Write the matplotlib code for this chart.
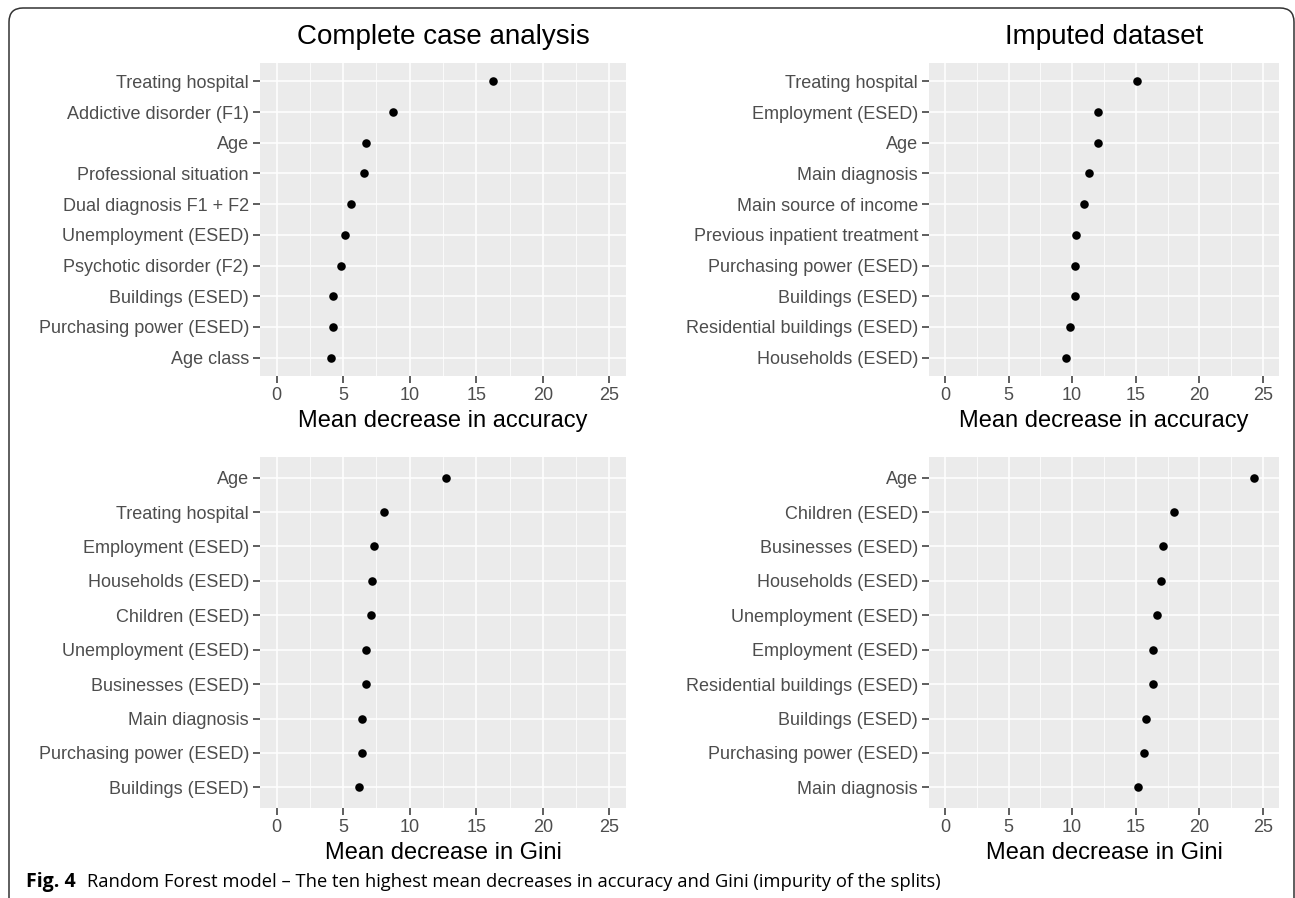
import matplotlib.pyplot as plt
from matplotlib.patches import FancyBboxPatch
import numpy as np

plt.rcParams['font.family'] = ['Liberation Sans', 'DejaVu Sans']

# data, listed top to bottom as in the picture
cca_acc_labels = ["Treating hospital", "Addictive disorder (F1)", "Age", "Professional situation",
                  "Dual diagnosis F1 + F2", "Unemployment (ESED)", "Psychotic disorder (F2)",
                  "Buildings (ESED)", "Purchasing power (ESED)", "Age class"]
cca_acc_values = [16.25, 8.75, 6.7, 6.6, 5.6, 5.15, 4.85, 4.25, 4.2, 4.1]

imp_acc_labels = ["Treating hospital", "Employment (ESED)", "Age", "Main diagnosis",
                  "Main source of income", "Previous inpatient treatment", "Purchasing power (ESED)",
                  "Buildings (ESED)", "Residential buildings (ESED)", "Households (ESED)"]
imp_acc_values = [15.1, 12.05, 12.0, 11.35, 10.95, 10.3, 10.25, 10.2, 9.85, 9.5]

cca_gini_labels = ["Age", "Treating hospital", "Employment (ESED)", "Households (ESED)",
                   "Children (ESED)", "Unemployment (ESED)", "Businesses (ESED)", "Main diagnosis",
                   "Purchasing power (ESED)", "Buildings (ESED)"]
cca_gini_values = [12.75, 8.1, 7.3, 7.2, 7.1, 6.7, 6.7, 6.45, 6.45, 6.2]

imp_gini_labels = ["Age", "Children (ESED)", "Businesses (ESED)", "Households (ESED)",
                   "Unemployment (ESED)", "Employment (ESED)", "Residential buildings (ESED)",
                   "Buildings (ESED)", "Purchasing power (ESED)", "Main diagnosis"]
imp_gini_values = [24.3, 18.0, 17.1, 17.0, 16.7, 16.35, 16.35, 15.8, 15.65, 15.15]

titles = ["Complete case analysis", "Imputed dataset"]
xlabels = ["Mean decrease in accuracy", "Mean decrease in Gini"]
caption_bold = "Fig. 4"
caption_text = "Random Forest model \u2013 The ten highest mean decreases in accuracy and Gini (impurity of the splits)"

W, H = 1295, 898
fig = plt.figure(figsize=(W / 100, H / 100), dpi=100)

def box(l, r, t, b):
    return [l / W, 1 - b / H, (r - l) / W, (b - t) / H]

panels = [
    (box(260, 626, 63, 376), cca_acc_labels, cca_acc_values, titles[0], xlabels[0]),
    (box(929, 1279, 63, 376), imp_acc_labels, imp_acc_values, titles[1], xlabels[0]),
    (box(260, 626, 457, 808), cca_gini_labels, cca_gini_values, None, xlabels[1]),
    (box(929, 1279, 457, 808), imp_gini_labels, imp_gini_values, None, xlabels[1]),
]

for rect, labels, values, title, xlabel in panels:
    ax = fig.add_axes(rect)
    n = len(labels)
    y = np.arange(n, 0, -1)
    ax.set_facecolor('#EBEBEB')
    ax.scatter(values, y, s=38, color='black', zorder=3, linewidths=0)
    ax.set_xlim(-1.25, 26.25)
    ax.set_ylim(0.4, n + 0.6)
    ax.set_xticks([0, 5, 10, 15, 20, 25])
    ax.set_xticks([2.5, 7.5, 12.5, 17.5, 22.5], minor=True)
    ax.set_yticks(y)
    ax.set_yticklabels(labels)
    ax.grid(True, which='major', color='white', linewidth=1.1)
    ax.grid(True, which='minor', axis='x', color='white', linewidth=0.55)
    ax.set_axisbelow(True)
    for s in ax.spines.values():
        s.set_visible(False)
    ax.tick_params(which='major', length=5, width=1.1, color='#333333',
                   labelcolor='#4D4D4D', labelsize=13, pad=3)
    ax.tick_params(which='minor', length=0)
    ax.set_xlabel(xlabel, fontsize=17, color='black', labelpad=4)
    if title:
        ax.set_title(title, fontsize=20, pad=14)

# rounded frame
frame = FancyBboxPatch((9, -30), 1285, 920, boxstyle="round,pad=0,rounding_size=14",
                       transform=None, facecolor='none', edgecolor='#333333', linewidth=1.1)
fig.patches.append(frame)

fig.text(26 / W, 1 - 882 / H, caption_bold, fontsize=14, fontweight='bold',
         family=['Open Sans', 'DejaVu Sans'], va='center', ha='left')
fig.text(87 / W, 1 - 882 / H, caption_text, fontsize=13.2,
         family=['Open Sans', 'DejaVu Sans'], va='center', ha='left')

fig.savefig('out.png', dpi=100)
